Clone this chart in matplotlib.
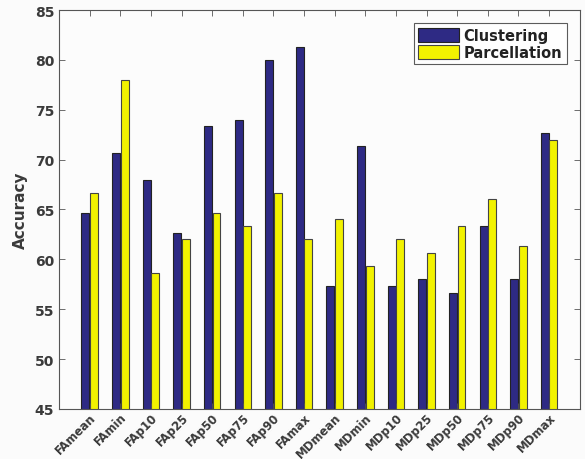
import numpy as np
import matplotlib
matplotlib.use('Agg')
import matplotlib.pyplot as plt

labels = ['FAmean', 'FAmin', 'FAp10', 'FAp25', 'FAp50', 'FAp75', 'FAp90', 'FAmax',
          'MDmean', 'MDmin', 'MDp10', 'MDp25', 'MDp50', 'MDp75', 'MDp90', 'MDmax']
clustering = [64.67, 70.67, 68.0, 62.67, 73.33, 74.0, 80.0, 81.33,
              57.33, 71.33, 57.33, 58.0, 56.67, 63.33, 58.0, 72.67]
parcellation = [66.67, 78.0, 58.67, 62.0, 64.67, 63.33, 66.67, 62.0,
                64.0, 59.33, 62.0, 60.67, 63.33, 66.0, 61.33, 72.0]

blue = '#2e2a84'
yellow = '#f2f200'
txt = '#3a3a3a'

fig = plt.figure(figsize=(5.85, 4.6), dpi=100)
fig.patch.set_facecolor('#fbfbfb')
ax = fig.add_axes([0.101, 0.109, 0.890, 0.867])
ax.set_facecolor('#fcfcfc')

x = np.arange(1, len(labels) + 1)
w = 0.26
ax.bar(x - 0.14, clustering, w, color=blue, edgecolor='#222222', linewidth=0.8, label='Clustering')
ax.bar(x + 0.14, parcellation, w, color=yellow, edgecolor='#444444', linewidth=0.8, label='Parcellation')

ax.set_xlim(0, 17)
ax.set_ylim(45, 85)
ax.set_yticks(range(45, 86, 5))
ax.set_xticks(x)
ax.set_xticklabels(labels, rotation=45, ha='right', rotation_mode='anchor',
                   fontsize=8.4, fontweight='bold', color=txt)
for t in ax.get_yticklabels():
    t.set_fontsize(10)
    t.set_fontweight('bold')
    t.set_color(txt)
ax.tick_params(direction='in', length=4, width=0.6, color='#555555', top=True, right=True)
ax.tick_params(axis='x', pad=1)
for s in ax.spines.values():
    s.set_color('#555555')
    s.set_linewidth(0.8)
ax.set_ylabel('Accuracy', fontsize=11, fontweight='bold', color=txt, labelpad=5)

leg = ax.legend(loc='upper right', frameon=True, fancybox=False,
                borderpad=0.3, handlelength=2.8, handleheight=1.1, handletextpad=0.3,
                labelspacing=0.15, prop={'weight': 'bold', 'size': 10.5}, borderaxespad=0.9)
leg.get_frame().set_edgecolor('#333333')
leg.get_frame().set_linewidth(0.8)
for t in leg.get_texts():
    t.set_color('#222222')

fig.savefig('out.png', dpi=100, facecolor=fig.get_facecolor())
